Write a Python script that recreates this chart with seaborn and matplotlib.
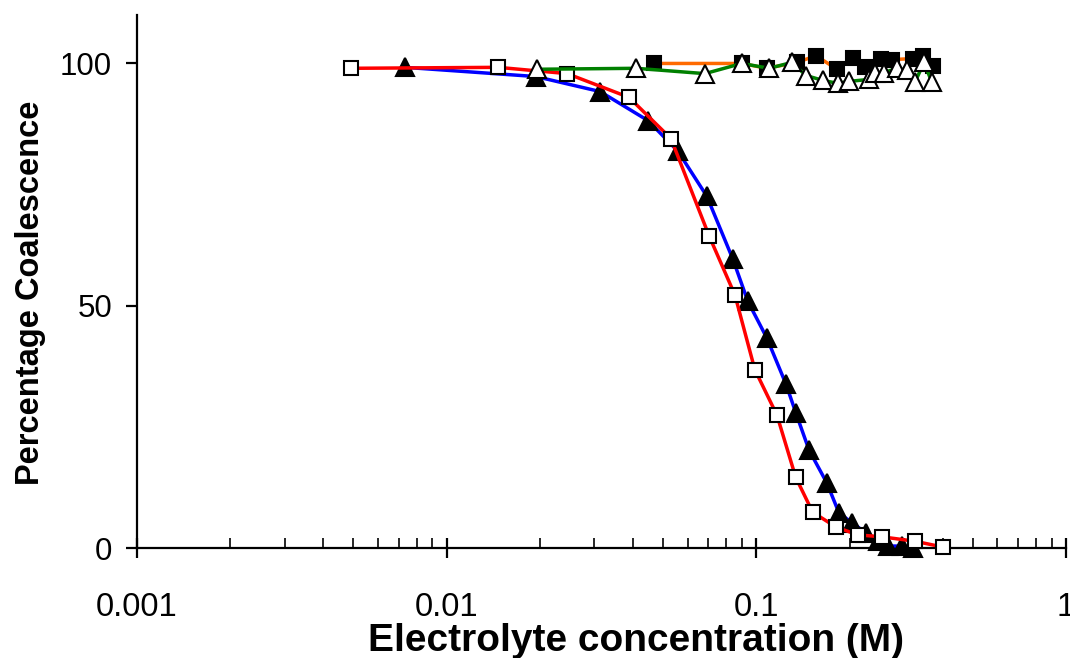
import numpy as np
import pandas as pd
import matplotlib
matplotlib.use("Agg")
import matplotlib.pyplot as plt
import seaborn as sns
from matplotlib.ticker import LogLocator, FixedLocator, FixedFormatter, NullFormatter

# ---- data ----
red_x = [0.00491, 0.01465, 0.0245, 0.0388, 0.053, 0.0705, 0.0853, 0.0989, 0.1166,
         0.134, 0.152, 0.181, 0.213, 0.255, 0.325, 0.400]
red_y = [99.0, 99.2, 97.9, 93.0, 84.5, 64.3, 52.2, 36.8, 27.4, 14.6, 7.4, 4.3, 2.7,
         2.3, 1.4, 0.2]

blue_x = [0.00733, 0.0194, 0.0313, 0.0447, 0.0558, 0.0692, 0.0840, 0.0939, 0.1082,
          0.1247, 0.1343, 0.148, 0.169, 0.185, 0.204, 0.226, 0.247, 0.266, 0.295, 0.320]
blue_y = [99.2, 97.3, 94.2, 88.2, 81.9, 72.6, 59.6, 50.9, 43.3, 33.8, 27.8, 20.2,
          13.4, 7.2, 5.2, 3.1, 1.4, 0.4, 0.4, 0.0]

orange_x = [0.0467, 0.0898, 0.108, 0.135, 0.156, 0.182, 0.205, 0.224, 0.253, 0.274,
            0.320, 0.345, 0.372]
orange_y = [100.0, 100.0, 99.0, 100.2, 101.6, 98.8, 101.2, 99.2, 101.0, 100.8,
            101.0, 101.6, 99.4]

green_x = [0.0196, 0.0409, 0.0682, 0.0898, 0.110, 0.130, 0.145, 0.164, 0.183, 0.199,
           0.231, 0.242, 0.258, 0.284, 0.306, 0.325, 0.348, 0.369]
green_y = [98.8, 99.0, 97.9, 100.0, 99.0, 100.2, 97.5, 96.5, 95.9, 96.3, 96.7, 98.1,
           98.1, 99.0, 98.6, 96.1, 100.2, 96.1]

x_ticks = [0.001, 0.01, 0.1, 1]
x_tick_labels = ["0.001", "0.01", "0.1", "1"]
y_ticks = [0, 50, 100]

# ---- plotting ----
sns.set_theme(style="white")
plt.rcParams["font.family"] = ["Liberation Sans", "DejaVu Sans"]
plt.rcParams["text.color"] = "black"
plt.rcParams["axes.labelcolor"] = "black"

fig = plt.figure(figsize=(10.70, 6.58), dpi=100)
ax = fig.add_axes([137 / 1070, 1 - 548 / 658, (1066 - 137) / 1070, (548 - 15) / 658])

common = dict(ax=ax, estimator=None, sort=False, linewidth=2.5, clip_on=False,
              markeredgewidth=1.5, legend=False)

sns.lineplot(x=blue_x, y=blue_y, color="#0000FF", marker="^", markersize=13.5,
             markerfacecolor="black", markeredgecolor="black", zorder=3, **common)
sns.lineplot(x=red_x, y=red_y, color="#FF0000", marker="s", markersize=10.5,
             markerfacecolor="white", markeredgecolor="black", zorder=4, **common)
sns.lineplot(x=orange_x, y=orange_y, color="#FF6A00", marker="s", markersize=10.5,
             markerfacecolor="black", markeredgecolor="black", zorder=5, **common)
sns.lineplot(x=green_x, y=green_y, color="#008000", marker="^", markersize=13.5,
             markerfacecolor="white", markeredgecolor="black", zorder=6, **common)

ax.set_xscale("log")
ax.set_xlim(0.001, 1)
ax.set_ylim(0, 110)

ax.xaxis.set_major_locator(FixedLocator(x_ticks))
ax.xaxis.set_major_formatter(FixedFormatter(x_tick_labels))
ax.xaxis.set_minor_locator(LogLocator(base=10, subs=np.arange(2, 10)))
ax.xaxis.set_minor_formatter(NullFormatter())
ax.set_yticks(y_ticks)

for side in ["top", "right"]:
    ax.spines[side].set_visible(False)
for side in ["left", "bottom"]:
    ax.spines[side].set_linewidth(1.6)
    ax.spines[side].set_color("black")

ax.tick_params(axis="x", which="major", direction="inout", length=15, width=1.6,
               pad=24, labelsize=23.5, colors="black", bottom=True)
ax.tick_params(axis="x", which="minor", direction="in", length=7, width=1.4,
               bottom=True)
ax.tick_params(axis="y", which="major", direction="out", length=8, width=1.6,
               pad=10, labelsize=22.5, colors="black", left=True)

ax.set_xlabel("Electrolyte concentration (M)", fontsize=28, fontweight="bold",
              color="black")
ax.set_ylabel("Percentage Coalescence", fontsize=23.5, fontweight="bold",
              color="black")
ax.xaxis.set_label_coords((636 - 137) / (1066 - 137), -(623 - 548) / (548 - 15))
ax.yaxis.set_label_coords(-(137 - 46) / (1066 - 137), (548 - 293) / (548 - 15))
ax.grid(False)
ax.set_facecolor("white")
fig.patch.set_facecolor("white")

fig.savefig("out.png", dpi=100)
